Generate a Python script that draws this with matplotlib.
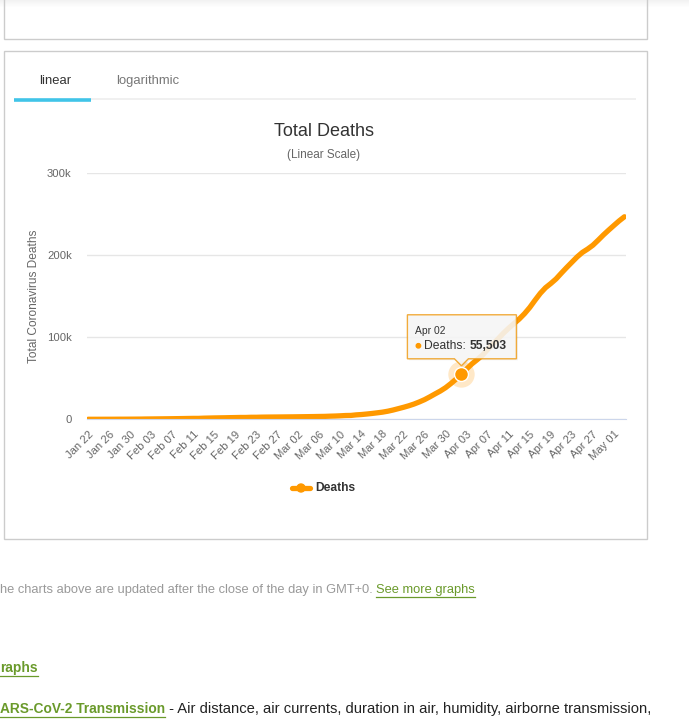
import numpy as np
import pandas as pd
import matplotlib
matplotlib.use("Agg")
import matplotlib.pyplot as plt
from matplotlib.patches import Rectangle, Polygon, Circle
from matplotlib.ticker import FuncFormatter

plt.rcParams['font.family'] = ['Liberation Sans', 'DejaVu Sans']

# ---- data ----
dates = pd.date_range("2020-01-22", "2020-05-03", freq="D")
date_labels = [d.strftime("%b %d") for d in dates]
deaths = [
    17, 18, 26, 42, 56, 82, 131, 133, 171, 213,                      # Jan 22-31
    259, 362, 426, 492, 564, 634, 719, 806, 906, 1013,               # Feb 1-10
    1113, 1118, 1371, 1523, 1666, 1770, 1868, 2007, 2122, 2247,      # Feb 11-20
    2251, 2458, 2469, 2629, 2708, 2770, 2814, 2872, 2941,            # Feb 21-29
    2996, 3085, 3160, 3254, 3348, 3460, 3558, 3802, 3988, 4262,      # Mar 1-10
    4615, 4720, 5404, 5819, 6440, 7126, 7905, 8733, 9867, 11299,     # Mar 11-20
    12973, 14651, 16505, 18625, 21181, 24000, 27400, 31000, 34500,   # Mar 21-29
    38600, 43600,                                                    # Mar 30-31
    49100, 55503, 61500, 67600, 72700, 78200, 85300, 91800, 98300,   # Apr 1-9
    105100, 111200, 116700, 122300, 128800, 136400, 145200, 153600,  # Apr 10-17
    160500, 165600, 171200, 178200, 185000, 191500, 198000, 203500,  # Apr 18-25
    207600, 212300, 218400, 224800, 230700,                          # Apr 26-30
    236400, 242000, 247000,                                          # May 1-3
]
y_ticks = [0, 100000, 200000, 300000]
hover_label = "Apr 02"

ORANGE = "#FF9900"
GREEN = "#6a9a2b"
W, H = 689, 720

fig = plt.figure(figsize=(W / 100, H / 100), dpi=100)

# page layer in pixel coordinates (y grows downward)
bg = fig.add_axes([0, 0, 1, 1], zorder=0)
bg.set_xlim(0, W)
bg.set_ylim(H, 0)
bg.axis("off")

# faint shadow at the very top
for i in range(7):
    bg.add_patch(Rectangle((0, i), W, 1, color="#000000", alpha=0.05 * (7 - i) / 7, lw=0))

# boxes
bg.add_patch(Rectangle((3.5, -5), 643, 43.5, fill=False, ec="#cccccc", lw=1))
bg.add_patch(Rectangle((3.5, 50.5), 643, 488, fill=False, ec="#cccccc", lw=1))

# tabs
bg.text(55, 81, "linear", ha="center", va="center", fontsize=9.4, color="#333333")
bg.text(148, 81, "logarithmic", ha="center", va="center", fontsize=9.4, color="#777777")
bg.plot([91, 636], [98.5, 98.5], color="#eeeeee", lw=1.2, solid_capstyle="butt")
bg.plot([14, 91], [99.5, 99.5], color="#40c4e8", lw=2.6, solid_capstyle="butt")

# titles
bg.text(324, 131, "Total Deaths", ha="center", va="center", fontsize=13, color="#333333")
bg.text(324, 155, "(Linear Scale)", ha="center", va="center", fontsize=8.5, color="#666666")
bg.text(34, 296, "Total Coronavirus Deaths", ha="center", va="center", rotation=90,
        fontsize=8.6, color="#666666")

# ---- chart ----
left, right, top, bottom = 87, 626, 173.3, 419.3
ax = fig.add_axes([left / W, 1 - bottom / H, (right - left) / W, (bottom - top) / H], zorder=1)
ax.patch.set_alpha(0)
x = np.arange(len(deaths))
ax.plot(x, deaths, color=ORANGE, lw=3.8, solid_capstyle="round", solid_joinstyle="round")
ax.set_xlim(-0.2, 102.3)
ax.set_ylim(0, 300000)
ax.set_yticks(y_ticks)
ax.yaxis.set_major_formatter(FuncFormatter(lambda v, p: "0" if v == 0 else f"{int(v / 1000)}k"))
ax.grid(axis="y", color="#e6e6e6", lw=1)
ax.set_axisbelow(True)
for s in ["top", "right", "left"]:
    ax.spines[s].set_visible(False)
ax.spines["bottom"].set_color("#ccd6eb")
ax.tick_params(axis="y", length=0, pad=11, labelsize=8.1, labelcolor="#666666")
ax.set_xticks(x[::4])
ax.set_xticklabels(date_labels[::4], rotation=45, ha="right", rotation_mode="anchor",
                   fontsize=8.1, color="#666666")
ax.tick_params(axis="x", length=0, pad=7)

# hovered point with halo
hi = date_labels.index(hover_label)
ax.plot([hi], [deaths[hi]], "o", ms=19, color=ORANGE, alpha=0.22, mec="none", zorder=4)
ax.plot([hi], [deaths[hi]], "o", ms=10, color=ORANGE, mec="#ffffff", mew=1, zorder=5)

# ---- tooltip overlay ----
ov = fig.add_axes([0, 0, 1, 1], zorder=2)
ov.set_xlim(0, W)
ov.set_ylim(H, 0)
ov.axis("off")
px, py = ax.transData.transform((hi, deaths[hi]))
py = H - py
bx0, bx1, by0, by1 = px - 54, px + 55, py - 59, py - 15
shape = [(bx0, by0), (bx1, by0), (bx1, by1), (px + 7, by1), (px, by1 + 7),
         (px - 7, by1), (bx0, by1)]
ov.add_patch(Polygon([(a + 1.5, b + 1.5) for a, b in shape], closed=True, fc="#000000",
                     alpha=0.06, ec="none"))
ov.add_patch(Polygon(shape, closed=True, fc="#f7f7f7", alpha=0.88, ec="#f0a020", lw=1))
ov.text(bx0 + 8, by0 + 16, hover_label, fontsize=7.4, color="#333333", va="center")
ov.add_patch(Circle((bx0 + 11, by0 + 31), 2.2, color=ORANGE))
t1 = ov.text(bx0 + 17, by0 + 31, "Deaths: ", fontsize=8.7, color="#333333", va="center")

# legend
bg.plot([292, 310], [488, 488], color=ORANGE, lw=3.8, solid_capstyle="round")
bg.add_patch(Circle((301, 488), 4, color=ORANGE))
bg.text(315, 488, "Deaths", fontsize=8.7, fontweight="bold", color="#333333", va="center")

# bottom page text
p1 = bg.text(0, 590, "he charts above are updated after the close of the day in GMT+0. ",
             fontsize=9.3, color="#999999", va="center")
p3 = bg.text(0, 668, "raphs", fontsize=9.9, fontweight="bold", color=GREEN, va="center")
p4 = bg.text(0, 709, "ARS-CoV-2 Transmission", fontsize=9.9, fontweight="bold", color=GREEN,
             va="center")

fig.canvas.draw()
r = fig.canvas.get_renderer()


def right_px(t):
    return t.get_window_extent(r).x1


ov.text(right_px(t1), by0 + 31, "55,503", fontsize=8.7, fontweight="bold", color="#333333",
        va="center")
x2 = right_px(p1)
p2 = bg.text(x2, 590, "See more graphs", fontsize=9.3, color=GREEN, va="center")
fig.canvas.draw()
bg.plot([x2, right_px(p2)], [597, 597], color=GREEN, lw=0.9)
bg.plot([0, right_px(p3)], [676, 676], color=GREEN, lw=0.9)
x4 = right_px(p4)
bg.plot([0, x4], [717, 717], color=GREEN, lw=0.9)
bg.text(x4, 709, " - Air distance, air currents, duration in air, humidity, airborne transmission,",
        fontsize=10.6, color="#222222", va="center")

fig.savefig("out.png", dpi=100)
